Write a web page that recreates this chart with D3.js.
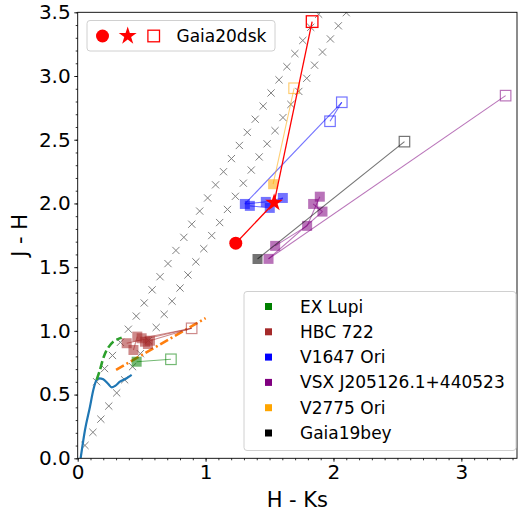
<!DOCTYPE html>
<html><head><meta charset="utf-8">
<script src="https://cdn.jsdelivr.net/npm/d3@7/dist/d3.min.js"></script>
<style>body{margin:0;background:#fff}svg{display:block;font-family:"DejaVu Sans",sans-serif}</style>
</head><body><svg id="c" width="522" height="513"></svg>
<script>
// ---- data (H-Ks, J-H) ----
const reddeningA_x = [0.057,0.119,0.181,0.243,0.305,0.367,0.429,0.490,0.552,0.614,0.676,0.738,0.800,0.862,0.924,0.986,1.048,1.110,1.171,1.233,1.295,1.357,1.419,1.481,1.543,1.605,1.667,1.729,1.791,1.852,1.914,1.976,2.038,2.100];
const reddeningA_y = [0.101,0.204,0.307,0.410,0.513,0.616,0.719,0.821,0.924,1.027,1.130,1.233,1.336,1.439,1.542,1.645,1.748,1.850,1.953,2.056,2.159,2.262,2.365,2.468,2.571,2.674,2.777,2.879,2.982,3.085,3.188,3.291,3.394,3.497];
const reddeningB_x = [0.148,0.210,0.272,0.334,0.396,0.458,0.520,0.582,0.644,0.706,0.768,0.830,0.892,0.954,1.016,1.078,1.140,1.202,1.264,1.326,1.388,1.450,1.512,1.574,1.636,1.698,1.760,1.822,1.884];
const reddeningB_y = [0.601,0.704,0.807,0.910,1.013,1.116,1.219,1.322,1.425,1.528,1.631,1.734,1.837,1.940,2.043,2.146,2.249,2.352,2.455,2.558,2.661,2.764,2.867,2.970,3.073,3.176,3.279,3.382,3.485];
const dwarf_x = [0.023,0.057,0.096,0.122,0.148,0.169,0.200,0.239,0.266,0.291,0.330,0.383,0.422];
const dwarf_y = [0.000,0.222,0.405,0.536,0.615,0.628,0.620,0.583,0.557,0.567,0.601,0.628,0.654];
const giant_x = [0.148,0.174,0.200,0.227,0.278,0.344];
const giant_y = [0.615,0.693,0.785,0.850,0.915,0.947];
const ctts_x = [0.30,1.00];
const ctts_y = [0.694,1.100];

const objNames  = ["EX Lupi","HBC 722","V1647 Ori","VSX J205126.1+440523","V2775 Ori","Gaia19bey"];
const objColors = ["#008000","#a52a2a","#0000ff","#800080","#ffa500","#000000"];
// filled squares (earlier epochs)
const filled_x = [[0.461],[0.383,0.436,0.466,0.500,0.526,0.549,0.565],[1.307,1.346,1.471,1.502,1.604],[1.893,1.841,1.914,1.794,1.544,1.492],[1.528],[1.406]];
const filled_y = [[0.758],[0.903,0.850,0.955,0.942,0.915,0.897,0.923],[1.996,1.981,2.012,1.965,2.043],[2.053,1.996,1.936,1.824,1.667,1.565],[2.151],[1.564]];
// open squares (later epochs)
const open_x = [[0.729],[0.891],[1.973,2.065],[3.346],[1.692],[2.555]];
const open_y = [[0.777],[1.020],[2.645,2.794],[2.846],[2.904],[2.485]];
// connecting segments: [x1,y1,x2,y2]
const links = [
  [[0.461,0.758,0.729,0.777]],
  [[0.383,0.903,0.891,1.020],[0.565,0.923,0.891,1.020],[0.436,0.850,0.466,0.955],[0.500,0.942,0.891,1.020]],
  [[1.307,1.996,2.065,2.794],[1.973,2.645,2.065,2.794],[1.307,1.996,1.471,2.012],[1.471,2.012,1.604,2.043],[1.346,1.981,1.502,1.965],[1.502,1.965,1.604,2.043]],
  [[1.492,1.565,3.346,2.846],[1.492,1.565,1.914,1.936],[1.544,1.667,1.794,1.824],[1.794,1.824,1.893,2.053],[1.841,1.996,1.914,1.936]],
  [[1.528,2.151,1.692,2.904]],
  [[1.406,1.564,2.555,2.485]]
];
// Gaia20dsk
const g20_circle = [1.236,1.688];
const g20_star   = [1.536,2.006];
const g20_open   = [1.833,3.427];

const xTicks = [0,1,2,3];
const yTicks = [0.0,0.5,1.0,1.5,2.0,2.5,3.0,3.5];

// ---- drawing ----
const svg = d3.select("#c");
const L=77.7,R=517,T=12.3,B=458.3;
const x = d3.scaleLinear().domain([0,3.435]).range([L,R]);
const y = d3.scaleLinear().domain([0,3.5]).range([B,T]);

svg.append("defs").append("clipPath").attr("id","clip").append("rect")
  .attr("x",L).attr("y",T).attr("width",R-L).attr("height",B-T);
const g = svg.append("g").attr("clip-path","url(#clip)");

// grey x markers
function xs(ax,ay){
  ax.forEach((v,i)=>{
    const cx=x(v),cy=y(ay[i]),s=3.6;
    g.append("path").attr("d",`M${cx-s},${cy-s}L${cx+s},${cy+s}M${cx-s},${cy+s}L${cx+s},${cy-s}`)
      .attr("stroke","#808080").attr("stroke-width",1).attr("fill","none");
  });
}
xs(reddeningA_x,reddeningA_y);
xs(reddeningB_x,reddeningB_y);

const line = d3.line().x(d=>x(d[0])).y(d=>y(d[1])).curve(d3.curveMonotoneX);
g.append("path").attr("d",line(dwarf_x.map((v,i)=>[v,dwarf_y[i]])))
  .attr("fill","none").attr("stroke","#1f77b4").attr("stroke-width",2.2);
g.append("path").attr("d",d3.line().x(d=>x(d[0])).y(d=>y(d[1])).curve(d3.curveCatmullRom)(giant_x.map((v,i)=>[v,giant_y[i]])))
  .attr("fill","none").attr("stroke","#2ca02c").attr("stroke-width",2.6).attr("stroke-dasharray","8,3.5");
g.append("path").attr("d",d3.line().x(d=>x(d[0])).y(d=>y(d[1]))(ctts_x.map((v,i)=>[v,ctts_y[i]])))
  .attr("fill","none").attr("stroke","#ff7f0e").attr("stroke-width",2.6).attr("stroke-dasharray","9,3,2,3");

// objects
objNames.forEach((n,k)=>{
  const c=objColors[k];
  links[k].forEach(s=>{
    g.append("line").attr("x1",x(s[0])).attr("y1",y(s[1])).attr("x2",x(s[2])).attr("y2",y(s[3]))
      .attr("stroke",c).attr("stroke-opacity",0.55).attr("stroke-width",1.1);
  });
  filled_x[k].forEach((v,i)=>{
    const sz=10;
    g.append("rect").attr("x",x(v)-sz/2).attr("y",y(filled_y[k][i])-sz/2).attr("width",sz).attr("height",sz)
      .attr("fill",c).attr("fill-opacity",0.55);
  });
  open_x[k].forEach((v,i)=>{
    const sz=10.5;
    g.append("rect").attr("x",x(v)-sz/2).attr("y",y(open_y[k][i])-sz/2).attr("width",sz).attr("height",sz)
      .attr("fill","none").attr("stroke",c).attr("stroke-opacity",0.55).attr("stroke-width",1.2);
  });
});

// Gaia20dsk
const red="#ff0000";
g.append("line").attr("x1",x(g20_circle[0])).attr("y1",y(g20_circle[1])).attr("x2",x(g20_star[0])).attr("y2",y(g20_star[1]))
  .attr("stroke",red).attr("stroke-width",1.3);
g.append("line").attr("x1",x(g20_star[0])).attr("y1",y(g20_star[1])).attr("x2",x(g20_open[0])).attr("y2",y(g20_open[1]))
  .attr("stroke",red).attr("stroke-width",1.3);
g.append("circle").attr("cx",x(g20_circle[0])).attr("cy",y(g20_circle[1])).attr("r",6.5).attr("fill",red);
const starSym = d3.symbol().type(d3.symbolStar).size(100);
g.append("path").attr("d",starSym()).attr("transform",`translate(${x(g20_star[0])},${y(g20_star[1])})`).attr("fill",red);
g.append("rect").attr("x",x(g20_open[0])-5.8).attr("y",y(g20_open[1])-5.8).attr("width",11.6).attr("height",11.6)
  .attr("fill","none").attr("stroke",red).attr("stroke-width",1.3);

// axes
const ax = svg.append("g").attr("transform",`translate(0,${B})`)
  .call(d3.axisBottom(x).tickValues(xTicks).tickFormat(d3.format("d")).tickSize(3.5).tickPadding(3.5));
svg.append("g").attr("transform",`translate(0,${B})`)
  .call(d3.axisBottom(x).tickValues(d3.range(0,3.44,0.1)).tickFormat("").tickSize(2));
const ay = svg.append("g").attr("transform",`translate(${L},0)`)
  .call(d3.axisLeft(y).tickValues(yTicks).tickFormat(d3.format(".1f")).tickSize(3.5).tickPadding(3.5));
svg.append("g").attr("transform",`translate(${L},0)`)
  .call(d3.axisLeft(y).tickValues(d3.range(0,3.51,0.1)).tickFormat("").tickSize(2));
svg.selectAll(".domain").remove();
svg.selectAll(".tick line").attr("stroke","#000").attr("stroke-width",0.8);
ax.selectAll("text").attr("font-size",20).attr("fill","#000").attr("font-family","DejaVu Sans");
ay.selectAll("text").attr("font-size",20).attr("fill","#000").attr("font-family","DejaVu Sans");
svg.append("rect").attr("x",L).attr("y",T).attr("width",R-L).attr("height",B-T)
  .attr("fill","none").attr("stroke","#000").attr("stroke-width",0.9);

svg.append("text").attr("x",(L+R)/2).attr("y",507).attr("text-anchor","middle").attr("font-size",21).text("H - Ks");
svg.append("text").attr("transform",`translate(27,${(T+B)/2}) rotate(-90)`).attr("text-anchor","middle").attr("font-size",21).text("J - H");

// legend 1
svg.append("rect").attr("x",87).attr("y",20.5).attr("width",188).attr("height",30.5).attr("rx",3)
  .attr("fill","#fff").attr("fill-opacity",0.8).attr("stroke","#d0d0d0").attr("stroke-width",1);
svg.append("circle").attr("cx",102.5).attr("cy",36).attr("r",6.5).attr("fill",red);
svg.append("path").attr("d",starSym()).attr("transform","translate(127.7,36)").attr("fill",red);
svg.append("rect").attr("x",147.9).attr("y",30.2).attr("width",11.6).attr("height",11.6).attr("fill","none").attr("stroke",red).attr("stroke-width",1.3);
svg.append("text").attr("x",176.5).attr("y",42).attr("font-size",17).text("Gaia20dsk");

// legend 2
svg.append("rect").attr("x",244).attr("y",291.5).attr("width",272).attr("height",159).attr("rx",3)
  .attr("fill","#fff").attr("fill-opacity",0.8).attr("stroke","#d0d0d0").attr("stroke-width",1);
objNames.forEach((n,k)=>{
  const cy=306.5+k*25.3;
  svg.append("rect").attr("x",265).attr("y",cy-3.5).attr("width",7).attr("height",7).attr("fill",objColors[k]);
  svg.append("text").attr("x",300).attr("y",cy+6).attr("font-size",17).text(n);
});
</script></body></html>
